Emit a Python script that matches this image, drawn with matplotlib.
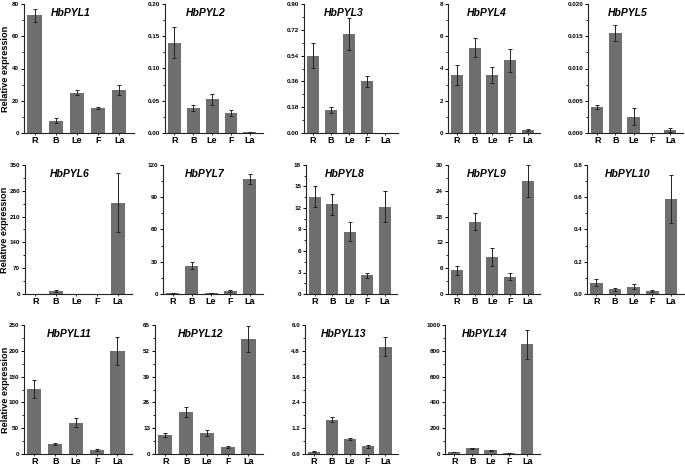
import numpy as np
import matplotlib
matplotlib.use('Agg')
import matplotlib.pyplot as plt
from matplotlib import ticker

plt.rcParams['font.family'] = ['Liberation Sans', 'DejaVu Sans']

tissues = ['R', 'B', 'Le', 'F', 'La']
genes = ['HbPYL%d' % i for i in range(1, 15)]

# mean expression and error per gene (R, B, Le, F, La)
means = [
    [73, 7.5, 25, 15.5, 26.5],
    [0.140, 0.039, 0.052, 0.031, 0.001],
    [0.54, 0.16, 0.69, 0.36, 0.0],
    [3.6, 5.3, 3.6, 4.5, 0.18],
    [0.0040, 0.0155, 0.0025, 0.0, 0.0004],
    [0.5, 8, 0.3, 0.3, 248],
    [0.8, 26.5, 0.8, 2.5, 107],
    [13.6, 12.5, 8.7, 2.6, 12.2],
    [5.5, 16.8, 8.6, 4.0, 26.2],
    [0.07, 0.028, 0.045, 0.02, 0.59],
    [126, 20, 61, 8, 200],
    [9.5, 21, 10.5, 3.5, 58],
    [0.1, 1.6, 0.7, 0.35, 5.0],
    [15, 45, 28, 5, 850],
]
errors = [
    [4, 1.5, 1.5, 0.8, 3],
    [0.024, 0.005, 0.008, 0.004, 0.0005],
    [0.09, 0.02, 0.11, 0.04, 0.0],
    [0.6, 0.6, 0.5, 0.7, 0.05],
    [0.0003, 0.0012, 0.0013, 0.0, 0.0003],
    [0.3, 3, 0.2, 0.2, 80],
    [0.3, 3.5, 0.3, 0.8, 4.5],
    [1.5, 1.5, 1.3, 0.3, 2.2],
    [1.0, 2.0, 2.0, 0.8, 3.7],
    [0.02, 0.007, 0.015, 0.005, 0.15],
    [18, 2, 8, 2, 27],
    [1.0, 2.5, 1.5, 0.5, 6.5],
    [0.02, 0.1, 0.03, 0.08, 0.45],
    [3, 5, 4, 1, 110],
]
ymax = [80, 0.20, 0.90, 8, 0.020, 350, 120, 18, 30, 0.8, 250, 65, 6.0, 1000]
ystep = [20, 0.05, 0.18, 2, 0.005, 70, 30, 3, 6, 0.2, 50, 13, 1.2, 200]
yfmt = ['%d', '%.2f', '%.2f', '%d', '%.3f', '%d', '%d', '%d', '%d', '%.1f',
        '%d', '%d', '%.1f', '%d']

W, H = 685, 466
fig = plt.figure(figsize=(6.85, 4.66), dpi=100)

# axes boxes in pixels (left, right) per column and (top, bottom) per row
cols = [[(24, 134), (165, 263), (304, 398), (448, 540), (588, 683)],
        [(25, 132), (163, 263), (306, 397), (448, 540), (587, 684)],
        [(24, 132), (155, 263), (305, 398), (445, 540)]]
rows = [(4, 133), (165, 294), (325, 454)]

x = np.arange(len(tissues))
k = 0
for r, (top, bot) in enumerate(rows):
    for c, (left, right) in enumerate(cols[r]):
        ax = fig.add_axes([left / W, 1 - bot / H, (right - left) / W, (bot - top) / H])
        ax.bar(x, means[k], width=0.68, color='#6f6f6f', zorder=2)
        ax.errorbar(x, means[k], yerr=errors[k], fmt='none', ecolor='#222222',
                    elinewidth=0.7, capsize=1.2, capthick=0.7, zorder=3)
        ax.set_xlim(-0.5, 4.7)
        ax.set_ylim(0, ymax[k])
        ax.yaxis.set_major_locator(ticker.MultipleLocator(ystep[k]))
        ax.yaxis.set_minor_locator(ticker.AutoMinorLocator(2))
        ax.yaxis.set_major_formatter(ticker.FormatStrFormatter(yfmt[k]))
        ax.set_xticks(x)
        ax.set_xticklabels(tissues, fontsize=6.5, fontweight='bold')
        ax.tick_params(axis='y', which='major', labelsize=4.5, length=2.5, width=0.7, pad=1)
        ax.tick_params(axis='y', which='minor', length=1.5, width=0.6)
        ax.tick_params(axis='x', length=1.5, width=0.6, pad=1)
        for lab in ax.get_yticklabels():
            lab.set_fontweight('bold')
        for s in ['top', 'right']:
            ax.spines[s].set_visible(False)
        for s in ['left', 'bottom']:
            ax.spines[s].set_linewidth(0.8)
            ax.spines[s].set_color('#222222')
        ax.text(0.42, 0.93, genes[k], transform=ax.transAxes, ha='center', va='center',
                fontsize=7.5, fontweight='bold', fontstyle='italic')
        if c == 0:
            ax.set_ylabel('Relative expression', fontsize=6.6, fontweight='bold')
            ax.yaxis.set_label_coords(-(left - 9.5) / (right - left), 0.5)
        k += 1

fig.savefig('out.png', dpi=100)
